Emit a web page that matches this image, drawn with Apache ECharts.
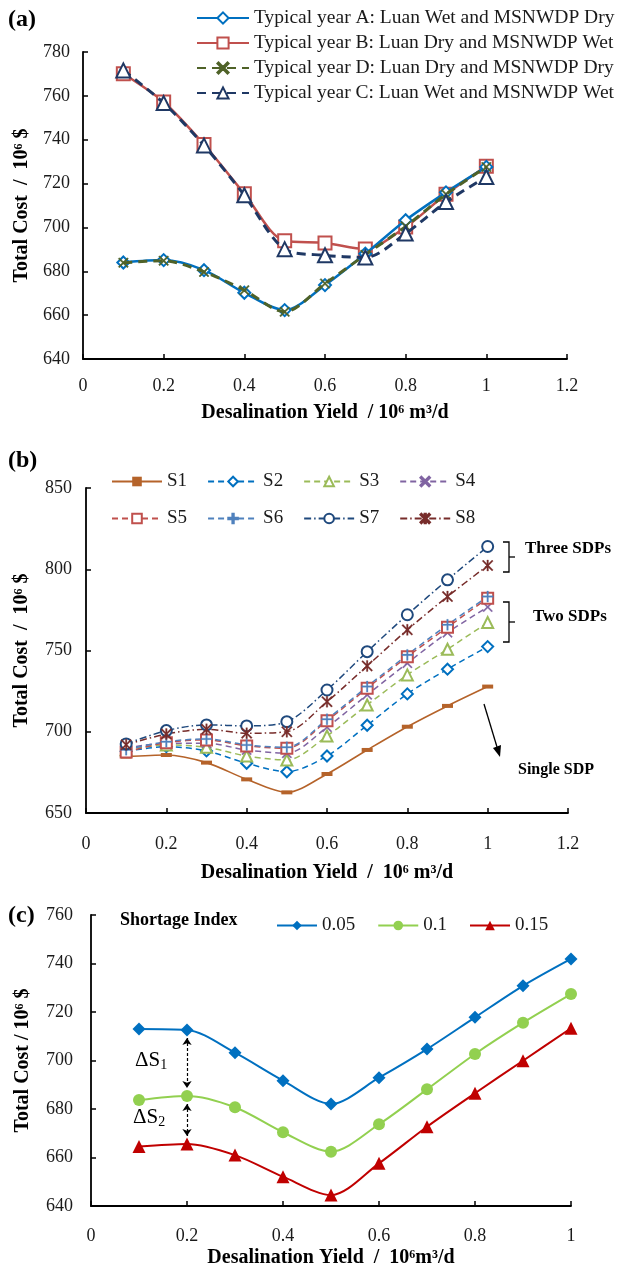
<!DOCTYPE html>
<html>
<head>
<meta charset="utf-8">
<title>Total cost vs desalination yield</title>
<script src="https://cdn.jsdelivr.net/npm/echarts@6/dist/echarts.min.js"></script>
<style>
  html, body { margin: 0; padding: 0; background: #fff; }
  #main { width: 621px; height: 1275px; }
</style>
</head>
<body>
<div id="main"></div>
<script>
// desalination yield, 10^6 m3/d (same for all three panels)
const yieldX = [0.1, 0.2, 0.3, 0.4, 0.5, 0.6, 0.7, 0.8, 0.9, 1.0]

// (a) typical years, total cost 10^6 $
const yearA = [684.0, 685.1, 680.5, 670.2, 662.3, 673.7, 688.0, 703.3, 716.0, 727.6]
const yearB = [770.1, 757.2, 737.8, 715.4, 693.9, 692.9, 690.2, 700.2, 715.1, 727.9]
const yearD = [683.9, 684.8, 679.7, 671.4, 661.5, 674.4, 687.5, 700.5, 715.1, 727.6]
const yearC = [771.6, 756.7, 737.4, 714.7, 690.1, 687.3, 686.3, 697.2, 711.6, 723.0]

// (b) scenarios S1..S8
const s1 = [684.7, 685.7, 681.0, 670.7, 662.7, 674.0, 688.8, 703.1, 715.9, 727.8]
const s2 = [688.0, 690.8, 688.2, 680.6, 675.4, 685.1, 704.0, 723.3, 738.5, 752.4]
const s3 = [689.0, 691.9, 690.4, 685.1, 682.6, 697.4, 716.5, 735.0, 750.8, 767.2]
const s4 = [690.0, 692.9, 692.9, 688.8, 686.8, 702.8, 722.7, 742.2, 761.0, 776.7]
const s5 = [687.5, 693.3, 695.0, 691.3, 689.8, 706.8, 726.8, 746.2, 764.3, 782.2]
const s6 = [689.0, 693.9, 695.6, 691.9, 690.4, 707.7, 727.8, 747.3, 765.8, 783.2]
const s7 = [692.5, 700.7, 704.2, 703.6, 706.2, 725.7, 749.3, 772.0, 793.5, 814.0]
const s8 = [692.0, 698.6, 701.5, 699.1, 700.0, 718.5, 740.5, 762.7, 783.2, 802.3]

// (c) shortage index
const si005 = [713.0, 712.6, 703.2, 691.7, 682.1, 692.9, 704.7, 717.8, 730.8, 741.9]
const si01 = [683.7, 685.4, 680.7, 670.4, 662.4, 673.7, 688.1, 702.7, 715.6, 727.4]
const si015 = [664.5, 665.6, 661.0, 652.1, 644.5, 657.6, 672.7, 686.5, 699.9, 713.3]

const FONT = 'Liberation Serif'

// marker shapes that echarts does not have
const xPath = 'path://M1,0 L5,4 L9,0 L10,1 L6,5 L10,9 L9,10 L5,6 L1,10 L0,9 L4,5 L0,1 Z'
const plusPath = 'path://M4.3,0 H5.7 V4.3 H10 V5.7 H5.7 V10 H4.3 V5.7 H0 V4.3 H4.3 Z'
const starPath = 'path://M1,0 L4.3,3.3 L4.3,0 L5.7,0 L5.7,3.3 L9,0 L10,1 L6,5 L10,9 L9,10 L5.7,6.7 L5.7,10 L4.3,10 L4.3,6.7 L1,10 L0,9 L4,5 L0,1 Z'

function pts(ys) {
  return yieldX.map((x, i) => [x, ys[i]])
}

function line(name, ys, idx, color, opt) {
  opt = opt || {}
  return {
    name: name,
    type: 'line',
    xAxisIndex: idx,
    yAxisIndex: idx,
    data: pts(ys),
    smooth: 0.3,
    symbol: opt.symbol || 'circle',
    symbolSize: opt.size || 10,
    showSymbol: true,
    lineStyle: { color: color, width: opt.width || 2, type: opt.dash || 'solid' },
    itemStyle: { color: opt.fill || color, borderColor: color, borderWidth: opt.bw == null ? 1.5 : opt.bw },
    z: opt.z || 2,
    markLine: opt.markLine
  }
}

function xAxis(idx, max, nameGap, margin) {
  return {
    gridIndex: idx,
    type: 'value',
    min: 0,
    max: max,
    interval: 0.2,
    name: idx == 2 ? 'Desalination Yield  /  10⁶m³/d' : (idx == 1 ? 'Desalination Yield  /  10⁶ m³/d' : 'Desalination Yield  / 10⁶ m³/d'),
    nameLocation: 'middle',
    nameGap: nameGap,
    nameTextStyle: { fontFamily: FONT, fontWeight: 'bold', fontSize: 20, color: '#000' },
    axisLine: { onZero: false, lineStyle: { color: '#000', width: 1.8 } },
    axisTick: { inside: true, length: 5, lineStyle: { color: '#000', width: 1.5 } },
    axisLabel: { fontFamily: FONT, fontSize: 18, color: '#1a1a1a', margin: margin },
    splitLine: { show: false }
  }
}

function yAxis(idx, min, max, interval, nameGap, margin) {
  return {
    gridIndex: idx,
    type: 'value',
    min: min,
    max: max,
    interval: interval,
    name: idx == 2 ? 'Total Cost / 10⁶ $' : 'Total Cost  /  10⁶ $',
    nameLocation: 'middle',
    nameGap: nameGap,
    nameTextStyle: { fontFamily: FONT, fontWeight: 'bold', fontSize: 20, color: '#000' },
    axisLine: { show: true, lineStyle: { color: '#000', width: 1.8 } },
    axisTick: { show: true, inside: true, length: 5, lineStyle: { color: '#000', width: 1.5 } },
    axisLabel: { fontFamily: FONT, fontSize: 18, color: '#1a1a1a', margin: margin },
    splitLine: { show: false }
  }
}

const legendText = { fontFamily: FONT, fontSize: 19, color: '#1a1a1a' }

// dashed double arrows between the curves at 0.2 in panel (c)
const dArrow = (top, bottom) => ({
  silent: true,
  symbol: ['arrow', 'arrow'],
  symbolSize: 7,
  label: { show: false },
  lineStyle: { color: '#000', type: [3, 2], width: 1.2 },
  data: [[{ coord: [yieldX[1], top] }, { coord: [yieldX[1], bottom] }]]
})

const option = {
  animation: false,
  backgroundColor: '#fff',
  grid: [
    { left: 83, top: 52, width: 484, height: 307 },
    { left: 86, top: 488, width: 482, height: 325 },
    { left: 91, top: 915, width: 480, height: 291 }
  ],
  xAxis: [xAxis(0, 1.2, 44, 18), xAxis(1, 1.2, 50, 22), xAxis(2, 1, 42, 21)],
  yAxis: [yAxis(0, 640, 780, 20, 51, 13), yAxis(1, 650, 850, 50, 54, 14), yAxis(2, 640, 760, 20, 58, 18)],
  legend: [
    {
      orient: 'vertical', left: 191, top: 3, itemWidth: 52, itemHeight: 14, itemGap: 5,
      textStyle: { fontFamily: FONT, fontSize: 19.5, color: '#1a1a1a' },
      data: ['Typical year A: Luan Wet and MSNWDP Dry', 'Typical year B: Luan Dry and MSNWDP Wet',
        'Typical year D: Luan Dry and MSNWDP Dry', 'Typical year C: Luan Wet and MSNWDP Wet']
    },
    { left: 106, top: 467, itemWidth: 50, itemHeight: 12, itemGap: 20, textStyle: legendText, data: ['S1', 'S2', 'S3', 'S4'] },
    { left: 106, top: 504, itemWidth: 50, itemHeight: 12, itemGap: 20, textStyle: legendText, data: ['S5', 'S6', 'S7', 'S8'] },
    { left: 271, top: 911, itemWidth: 40, itemHeight: 12, itemGap: 22, textStyle: legendText, data: ['0.05', '0.1', '0.15'] }
  ],
  series: [
    // (a)
    line('Typical year A: Luan Wet and MSNWDP Dry', yearA, 0, '#0070C0', { symbol: 'emptyDiamond', size: 12, width: 2.5, z: 4 }),
    line('Typical year B: Luan Dry and MSNWDP Wet', yearB, 0, '#C0504D', { symbol: 'emptyRect', size: 13, width: 2.5, z: 3 }),
    line('Typical year D: Luan Dry and MSNWDP Dry', yearD, 0, '#4F6228', { symbol: xPath, size: 10, width: 3, dash: [9, 6], bw: 0.5, z: 5 }),
    line('Typical year C: Luan Wet and MSNWDP Wet', yearC, 0, '#1F3864', { symbol: 'emptyTriangle', size: 14, width: 3, dash: [9, 6], z: 6 }),
    // (b)
    line('S1', s1, 1, '#B5632A', { symbol: 'rect', size: [11, 4], width: 1.6, bw: 0 }),
    line('S2', s2, 1, '#0070C0', { symbol: 'emptyDiamond', size: 11, width: 1.5, dash: [6, 4] }),
    line('S3', s3, 1, '#9BBB59', { symbol: 'emptyTriangle', size: 11, width: 1.5, dash: [6, 4] }),
    line('S4', s4, 1, '#8064A2', { symbol: xPath, size: 10, width: 1.5, dash: [6, 4], bw: 0.3 }),
    line('S5', s5, 1, '#C0504D', { symbol: 'emptyRect', size: 11, width: 1.5, dash: [6, 4] }),
    line('S6', s6, 1, '#4F81BD', { symbol: plusPath, size: 11, width: 1.5, dash: [6, 4], bw: 0.3 }),
    line('S7', s7, 1, '#1F497D', { symbol: 'emptyCircle', size: 11, width: 1.5, dash: [7, 3, 1.5, 3] }),
    line('S8', s8, 1, '#772C2A', { symbol: starPath, size: 11, width: 1.5, dash: [7, 3, 1.5, 3], bw: 0.3 }),
    // (c)
    line('0.05', si005, 2, '#0070C0', { symbol: 'diamond', size: 13, width: 2, bw: 0, markLine: dArrow(si005[1] - 3.3, si01[1] + 3.3) }),
    line('0.1', si01, 2, '#92D050', { symbol: 'circle', size: 12, width: 2, bw: 0, markLine: dArrow(si01[1] - 3.3, si015[1] + 3.3) }),
    line('0.15', si015, 2, '#C00000', { symbol: 'triangle', size: 13, width: 2, bw: 0 })
  ],
  graphic: [
    { type: 'text', left: 8, top: 8, style: { text: '(a)', font: 'bold 24px ' + FONT, fill: '#000' } },
    { type: 'text', left: 8, top: 449, style: { text: '(b)', font: 'bold 24px ' + FONT, fill: '#000' } },
    { type: 'text', left: 8, top: 904, style: { text: '(c)', font: 'bold 24px ' + FONT, fill: '#000' } },
    { type: 'text', left: 120, top: 911, style: { text: 'Shortage Index', font: 'bold 18px ' + FONT, fill: '#000' } },
    // brackets in (b)
    { type: 'polyline', shape: { points: [[503, 542], [509, 542], [509, 572], [503, 572]] }, style: { stroke: '#000', lineWidth: 1.3, fill: null } },
    { type: 'line', shape: { x1: 509, y1: 557, x2: 515, y2: 557 }, style: { stroke: '#000', lineWidth: 1.3 } },
    { type: 'polyline', shape: { points: [[503, 602], [509, 602], [509, 642], [503, 642]] }, style: { stroke: '#000', lineWidth: 1.3, fill: null } },
    { type: 'line', shape: { x1: 509, y1: 622, x2: 515, y2: 622 }, style: { stroke: '#000', lineWidth: 1.3 } },
    { type: 'text', left: 525, top: 540, style: { text: 'Three SDPs', font: 'bold 17px ' + FONT, fill: '#000' } },
    { type: 'text', left: 533, top: 608, style: { text: 'Two SDPs', font: 'bold 17px ' + FONT, fill: '#000' } },
    { type: 'line', shape: { x1: 484, y1: 704, x2: 497, y2: 747 }, style: { stroke: '#000', lineWidth: 1.3 } },
    { type: 'polygon', shape: { points: [[500, 757], [501, 745], [493, 748]] }, style: { fill: '#000' } },
    { type: 'text', left: 518, top: 762, style: { text: 'Single SDP', font: 'bold 16px ' + FONT, fill: '#000' } },
    // delta labels in (c)
    {
      type: 'text', left: 135, top: 1050,
      style: { text: 'ΔS{s|1}', font: '21px ' + FONT, fill: '#000', rich: { s: { fontSize: 14, fontFamily: FONT, verticalAlign: 'bottom', padding: [10, 0, 0, 0] } } }
    },
    {
      type: 'text', left: 133, top: 1107,
      style: { text: 'ΔS{s|2}', font: '21px ' + FONT, fill: '#000', rich: { s: { fontSize: 14, fontFamily: FONT, verticalAlign: 'bottom', padding: [10, 0, 0, 0] } } }
    }
  ]
}

const chart = echarts.init(document.getElementById('main'), null, { renderer: 'canvas' })
chart.setOption(option)
</script>
</body>
</html>
